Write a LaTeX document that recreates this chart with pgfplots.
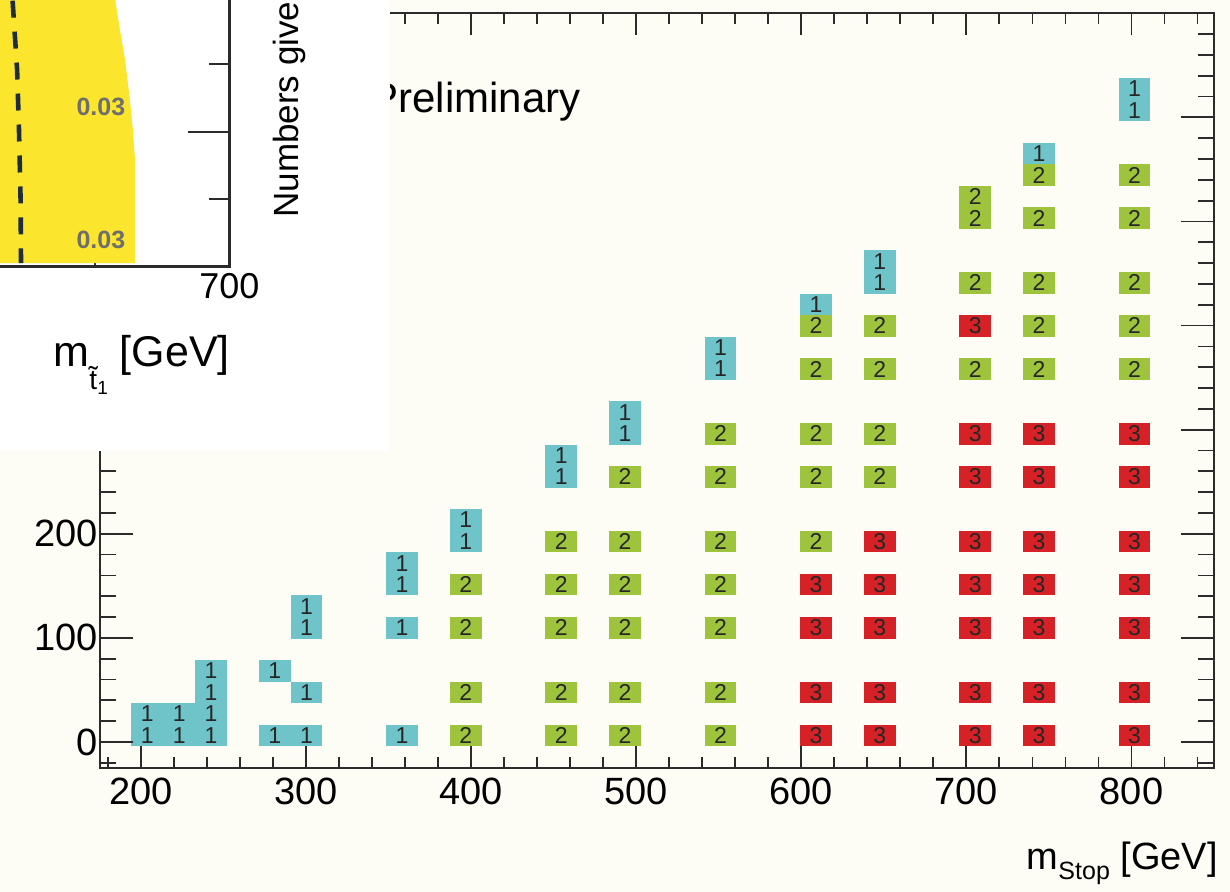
\documentclass[border=0pt]{standalone}
\usepackage{pgfplots}
\pgfplotsset{compat=1.18}
\usepackage{fontspec}
\setmainfont{Liberation Sans}
\definecolor{bgc}{HTML}{FDFDF6}
\definecolor{cyanc}{HTML}{6FC4CA}
\definecolor{greenc}{HTML}{9DC43C}
\definecolor{redc}{HTML}{D62226}
\definecolor{axc}{HTML}{2B2B2B}
\definecolor{yelc}{HTML}{FCE62D}
\definecolor{dashc}{HTML}{1F2D3A}
\definecolor{labgray}{HTML}{6E6E6E}
\tikzset{cellnode/.style={anchor=center, minimum width=15.92pt, minimum height=10.78pt,
    inner sep=0pt, text=black!85}}
\pgfplotsset{
  mainbase/.style={
    at={(49.8pt,62pt)}, anchor=south west, scale only axis,
    width=557.2pt, height=377.35pt,
    xmin=175, xmax=850, ymin=-25, ymax=700,
    axis line style={line width=1.1pt, color=axc},
    tick style={line width=0.9pt, color=axc},
    tick align=inside,
    /pgf/number format/assume math mode=true,
    tick label style={font=\fontsize{19pt}{22pt}\selectfont, text=black},
  },
  cellplot/.style 2 args={only marks, mark=none,
    nodes near coords={\fontsize{11.5pt}{12pt}\selectfont #1},
    nodes near coords align={center},
    every node near coord/.append style={cellnode, fill=#2}},
  overbase/.style={
    at={(114.65pt,312.65pt)}, anchor=south east, scale only axis,
    width=268.6pt, height=202.5pt,
    xmin=500, xmax=700, ymin=0, ymax=300,
    axis line style={line width=1.2pt, color=axc},
    tick style={line width=0.9pt, color=axc},
    tick align=inside,
    /pgf/number format/assume math mode=true,
    tick label style={font=\fontsize{18pt}{21pt}\selectfont, text=black},
  },
}
\begin{document}
\begin{tikzpicture}
\useasboundingbox (0,0) rectangle (615pt,446pt);
\clip (0,0) rectangle (615pt,446pt);
\fill[bgc] (0,0) rectangle (615pt,446pt);

% main axis: x ticks, data
\begin{axis}[mainbase,
  xtick={200,300,...,800}, minor xtick={180,200,...,840},
  ytick=\empty,
  major tick length=11pt, minor tick length=5.5pt,
  xticklabel style={yshift=-1.3pt},
  xlabel={m\raisebox{-5pt}{\fontsize{12.5pt}{14pt}\selectfont Stop} [GeV]},
  xlabel style={at={(axis description cs:1,0)}, anchor=base east, yshift=-51pt, xshift=2pt,
    inner sep=0pt, font=\fontsize{19pt}{22pt}\selectfont},
]
\addplot[cellplot={1}{cyanc}] coordinates {
 (203.93,6.07) (203.93,26.79)
 (223.21,6.07) (223.21,26.79)
 (242.5,6.07) (242.5,26.79) (242.5,47.5) (242.5,68.21)
 (281.07,6.07) (281.07,68.21)
 (300.36,6.07) (300.36,47.5) (300.36,109.64) (300.36,130.36)
 (358.21,6.07) (358.21,109.64) (358.21,151.07) (358.21,171.79)
 (396.79,192.5) (396.79,213.21)
 (454.64,254.64) (454.64,275.36)
 (493.21,296.07) (493.21,316.79)
 (551.07,358.21) (551.07,378.93)
 (608.93,420.36)
 (647.5,441.07) (647.5,461.79)
 (743.93,565.36)
 (801.79,606.79) (801.79,627.5)
};
\addplot[cellplot={2}{greenc}] coordinates {
 (396.79,6.07) (396.79,47.5) (396.79,109.64) (396.79,151.07)
 (454.64,6.07) (454.64,47.5) (454.64,109.64) (454.64,151.07) (454.64,192.5)
 (493.21,6.07) (493.21,47.5) (493.21,109.64) (493.21,151.07) (493.21,192.5) (493.21,254.64)
 (551.07,6.07) (551.07,47.5) (551.07,109.64) (551.07,151.07) (551.07,192.5) (551.07,254.64) (551.07,296.07)
 (608.93,192.5) (608.93,254.64) (608.93,296.07) (608.93,358.21) (608.93,399.64)
 (647.5,254.64) (647.5,296.07) (647.5,358.21) (647.5,399.64)
 (705.36,358.21) (705.36,441.07) (705.36,503.21) (705.36,523.93)
 (743.93,358.21) (743.93,399.64) (743.93,441.07) (743.93,503.21) (743.93,544.64)
 (801.79,358.21) (801.79,399.64) (801.79,441.07) (801.79,503.21) (801.79,544.64)
};
\addplot[cellplot={3}{redc}] coordinates {
 (608.93,6.07) (608.93,47.5) (608.93,109.64) (608.93,151.07)
 (647.5,6.07) (647.5,47.5) (647.5,109.64) (647.5,151.07) (647.5,192.5)
 (705.36,6.07) (705.36,47.5) (705.36,109.64) (705.36,151.07) (705.36,192.5) (705.36,254.64) (705.36,296.07) (705.36,399.64)
 (743.93,6.07) (743.93,47.5) (743.93,109.64) (743.93,151.07) (743.93,192.5) (743.93,254.64) (743.93,296.07)
 (801.79,6.07) (801.79,47.5) (801.79,109.64) (801.79,151.07) (801.79,192.5) (801.79,254.64) (801.79,296.07)
};
\end{axis}

% main axis: y ticks
\begin{axis}[mainbase,
  xtick=\empty,
  ytick={0,100,...,700}, minor ytick={-20,0,...,680},
  major tick length=16.5pt, minor tick length=8.25pt,
  yticklabel style={xshift=2.8pt},
]
\end{axis}

\node[anchor=base west, inner sep=0pt, font=\fontsize{21pt}{25pt}\selectfont] at (185pt,389.5pt) {Preliminary};

% overlaid inset
\fill[white] (0,220.5pt) rectangle (195pt,446pt);

\begin{axis}[overbase,
  xtick={700}, minor xtick={650}, ytick=\empty,
  major tick length=6pt, minor tick length=6pt,
  xlabel={m\raisebox{-11.5pt}{\fontsize{14pt}{16pt}\selectfont\~{t}\raisebox{-2.5pt}{\fontsize{9.5pt}{11pt}\selectfont 1}} [GeV]},
  xlabel style={at={(axis description cs:1,0)}, anchor=base east, yshift=-50.15pt, xshift=0.4pt,
    inner sep=0pt, font=\fontsize{21.5pt}{25pt}\selectfont},
]
\addplot[fill=yelc, draw=none] coordinates {
 (600,2.7) (664.9,2.7) (664.9,79) (664.1,101.3) (663.0,123.5) (661.2,153.1) (659.3,175.3) (657.3,200) (656.8,220) (600,220)
} -- cycle;
\addplot[dashc, line width=2.3pt, dash pattern=on 8.5pt off 7pt] coordinates {
 (619.0,220) (619.3,197.6) (621.0,145.7) (621.7,101.3) (622.3,49.4) (622.45,2.7)
};
\node[text=labgray, font=\bfseries\fontsize{12.5pt}{14pt}\selectfont] at (axis cs:652.2,118.3) {0.03};
\node[text=labgray, font=\bfseries\fontsize{12.5pt}{14pt}\selectfont] at (axis cs:652.2,19.8) {0.03};
\end{axis}

\begin{axis}[overbase,
  xtick=\empty, ytick={100}, minor ytick={50,150}, yticklabels={},
  major tick length=20.5pt, minor tick length=10pt,
]
\end{axis}

\node[rotate=90, anchor=base west, inner sep=0pt, font=\fontsize{17.5pt}{20pt}\selectfont] at (149pt,337pt) {Numbers give};
\end{tikzpicture}
\end{document}
